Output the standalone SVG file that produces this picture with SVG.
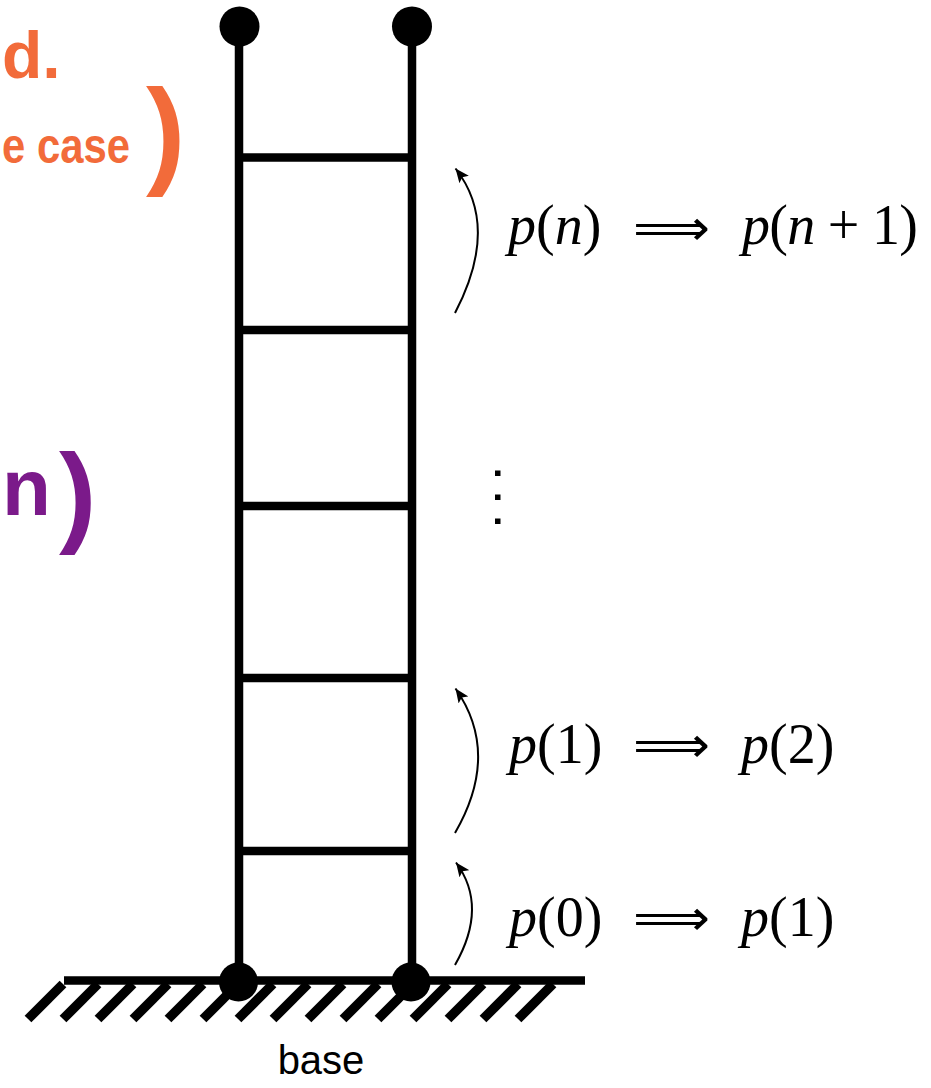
<svg xmlns="http://www.w3.org/2000/svg" width="931" height="1088" viewBox="0 0 931 1088">
  <style>
    .rail { stroke: #000; stroke-width: 8.5; fill: none; }
    .hatch { stroke: #000; stroke-width: 9.5; stroke-linecap: butt; }
    .joint { fill: #000; }
    .arc { stroke: #000; stroke-width: 2; fill: none; marker-end: url(#ah); }
    .math { font-family: "Liberation Serif", "DejaVu Serif", serif; font-size: 56px; fill: #000; }
    .imp { font-family: "DejaVu Sans", sans-serif; font-size: 50px; fill: #000; }
    .it { font-style: italic; }
    .label { font-family: "Liberation Sans", Arial, sans-serif; font-size: 40px; fill: #000; }
    .orange { font-family: "Liberation Sans", Arial, sans-serif; font-weight: bold; fill: #F26B3A; }
    .purple { font-family: "Liberation Sans", Arial, sans-serif; font-weight: bold; fill: #7B1A8A; }
  </style>
  <defs>
    <marker id="ah" markerWidth="16" markerHeight="12" refX="14" refY="6" orient="auto" markerUnits="userSpaceOnUse">
      <path d="M0,0 L14,6 L0,12 L3,6 z" fill="#000"/>
    </marker>
  </defs>
  <rect width="931" height="1088" fill="#fff"/>

  <g id="annotations">
    <text class="orange" x="2" y="78" font-size="66">d.</text>
    <text class="orange" x="2" y="163" font-size="50" textLength="128" lengthAdjust="spacingAndGlyphs">e case</text>
    <text class="orange" x="146" y="172" font-size="118" font-weight="normal">)</text>
    <text class="purple" x="2" y="515" font-size="80">n</text>
    <text class="purple" x="59" y="532" font-size="112" font-weight="normal">)</text>
  </g>

  <g id="ground">
    <line class="rail" x1="64" y1="980.5" x2="585" y2="980.5"/>
    <g class="hatches">
      <line class="hatch" x1="28" y1="1019" x2="63" y2="984"/>
      <line class="hatch" x1="63" y1="1019" x2="98" y2="984"/>
      <line class="hatch" x1="98" y1="1019" x2="133" y2="984"/>
      <line class="hatch" x1="133" y1="1019" x2="168" y2="984"/>
      <line class="hatch" x1="168" y1="1019" x2="203" y2="984"/>
      <line class="hatch" x1="203" y1="1019" x2="238" y2="984"/>
      <line class="hatch" x1="238" y1="1019" x2="273" y2="984"/>
      <line class="hatch" x1="273" y1="1019" x2="308" y2="984"/>
      <line class="hatch" x1="308" y1="1019" x2="343" y2="984"/>
      <line class="hatch" x1="343" y1="1019" x2="378" y2="984"/>
      <line class="hatch" x1="378" y1="1019" x2="413" y2="984"/>
      <line class="hatch" x1="413" y1="1019" x2="448" y2="984"/>
      <line class="hatch" x1="448" y1="1019" x2="483" y2="984"/>
      <line class="hatch" x1="483" y1="1019" x2="518" y2="984"/>
      <line class="hatch" x1="518" y1="1019" x2="553" y2="984"/>
    </g>
    <text class="label" x="321" y="1074" text-anchor="middle">base</text>
  </g>

  <g id="ladder">
    <line class="rail" x1="239" y1="27" x2="239" y2="982"/>
    <line class="rail" x1="412" y1="27" x2="412" y2="982"/>
    <line class="rail" x1="239" y1="157.5" x2="412" y2="157.5"/>
    <line class="rail" x1="239" y1="330" x2="412" y2="330"/>
    <line class="rail" x1="239" y1="506" x2="412" y2="506"/>
    <line class="rail" x1="239" y1="678" x2="412" y2="678"/>
    <line class="rail" x1="239" y1="851" x2="412" y2="851"/>
    <circle class="joint" cx="239.5" cy="26.5" r="20"/>
    <circle class="joint" cx="412" cy="26.5" r="20"/>
    <circle class="joint" cx="238.5" cy="982" r="19.5"/>
    <circle class="joint" cx="411" cy="982" r="19.5"/>
  </g>

  <g id="connectors">
    <path class="arc" d="M455,313 Q500.5,226 455.5,168.5"/>
    <path class="arc" d="M455,833 Q501,753.5 455.5,688.5"/>
    <path class="arc" d="M455,965 Q488.5,906.5 456,862.5"/>
  </g>

  <g id="step-n">
    <text class="math" x="508" y="244"><tspan class="it">p</tspan>(<tspan class="it">n</tspan>)</text>
    <text class="imp" x="633" y="245" textLength="77" lengthAdjust="spacingAndGlyphs">⟹</text>
    <text class="math" x="742" y="244" textLength="176" lengthAdjust="spacing"><tspan class="it">p</tspan>(<tspan class="it">n</tspan> + 1)</text>
  </g>

  <g id="dots">
    <rect x="495" y="470.5" width="5.5" height="5.5"/>
    <rect x="495" y="494.5" width="5.5" height="5.5"/>
    <rect x="495" y="518.5" width="5.5" height="5.5"/>
  </g>

  <g id="step-1">
    <text class="math" x="509" y="763"><tspan class="it">p</tspan>(1)</text>
    <text class="imp" x="633" y="762" textLength="77" lengthAdjust="spacingAndGlyphs">⟹</text>
    <text class="math" x="741" y="763"><tspan class="it">p</tspan>(2)</text>
  </g>

  <g id="step-0">
    <text class="math" x="509" y="936"><tspan class="it">p</tspan>(0)</text>
    <text class="imp" x="633" y="935" textLength="77" lengthAdjust="spacingAndGlyphs">⟹</text>
    <text class="math" x="741" y="936"><tspan class="it">p</tspan>(1)</text>
  </g>
</svg>
